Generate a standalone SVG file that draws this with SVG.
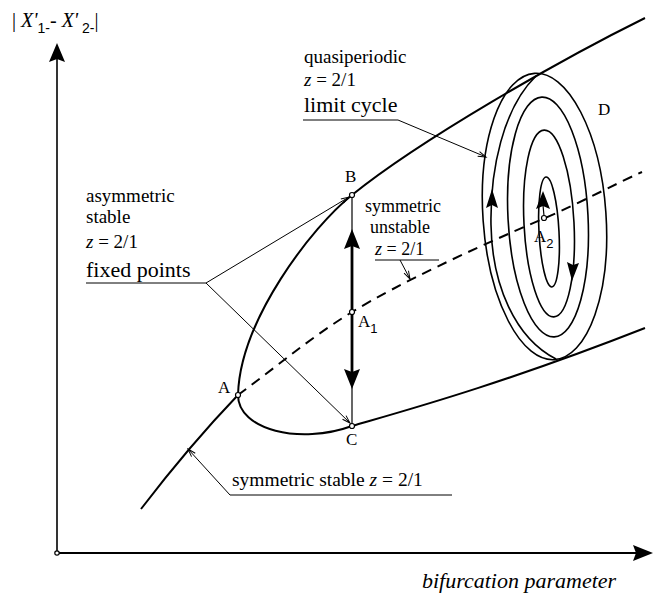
<svg xmlns="http://www.w3.org/2000/svg" width="655" height="597" viewBox="0 0 655 597">
<defs>
<style>
text{font-family:"Liberation Serif","Times New Roman",serif;fill:#000}
.lbl{font-size:19px}
.mid{font-size:18px}
.big{font-size:22px}
.pt{font-size:17px}
.sub{font-family:"Liberation Sans",Arial,sans-serif;font-size:13px}
.it{font-style:italic}
.curve{fill:none;stroke:#000;stroke-width:2}
.ring{fill:none;stroke:#000;stroke-width:1.6}
.lead{fill:none;stroke:#000;stroke-width:1}
.dot{fill:#fff;stroke:#000;stroke-width:1.2}
.ah{fill:#000;stroke:none}
</style>
<marker id="tick" viewBox="-10 -5 12 10" refX="0" refY="0" markerWidth="12" markerHeight="10" markerUnits="userSpaceOnUse" orient="auto">
<path d="M-8,-2.5 L0,0 L-8,2.5" fill="none" stroke="#000" stroke-width="1"/>
</marker>
</defs>
<rect width="655" height="597" fill="#fff"/>

<g id="axes">
<line x1="57" y1="553" x2="57" y2="58" stroke="#000" stroke-width="1.6"/>
<path class="ah" d="M57,43 L65,62 L57,59 L49,62 Z"/>
<line x1="57" y1="553" x2="636" y2="553" stroke="#000" stroke-width="2"/>
<path class="ah" d="M653,553 L633,545 L636,553 L633,561 Z"/>
<circle class="dot" cx="57" cy="553" r="2.2"/>
<text x="12" y="27" style="font-size:20px">| <tspan class="it">X'</tspan><tspan class="sub" style="font-size:14px" dy="6">1-</tspan><tspan dy="-6">-</tspan> <tspan class="it">X'</tspan><tspan class="sub" style="font-size:14px" dy="6"> 2-</tspan><tspan dy="-6">|</tspan></text>
<text class="it" x="422" y="588" style="font-size:22px">bifurcation parameter</text>
</g>

<g id="branches">
<path class="curve" d="M645,18 C560,60 420,140 352,195 C312,227 240,320 238,395 C238,430 300,445 352,426 C400,412 500,385 645,328"/>
<path class="curve" d="M141,509 Q190,445 238,395"/>
<path class="curve" stroke-dasharray="10,7" d="M238,395 C280,364 310,338 352,312 C400,283 470,250 545,218 C580,203 615,184 642,172"/>
</g>

<g id="limit-cycle">
<ellipse class="ring" cx="544.5" cy="216.5" rx="61.5" ry="143.5" transform="rotate(-4 544.5 216.5)"/>
<path class="ring" d="M536,76 C503,108 490,170 491,225 C492,285 515,338 556,359"/>
<ellipse class="ring" cx="548" cy="217" rx="40" ry="120" transform="rotate(-3 548 217)"/>
<ellipse class="ring" cx="549" cy="223.5" rx="25" ry="93.5" transform="rotate(-3 549 223.5)"/>
<ellipse class="ring" cx="549" cy="232" rx="10" ry="55" transform="rotate(-3 549 232)"/>
<path class="ah" d="M492,189 L498,208 L492,205 L486,208 Z"/>
<path class="ah" d="M543,191 L550,209 L543,206 L536,209 Z"/>
<line x1="543" y1="205" x2="544" y2="216" stroke="#000" stroke-width="1.2"/>
<path class="ah" d="M572,281 L567,262 L573,265 L579,263 Z"/>
<circle class="dot" cx="544" cy="218" r="2.5"/>
<text class="pt" x="534" y="242">A<tspan class="sub" dy="6">2</tspan></text>
<text class="pt" x="598" y="115">D</text>
</g>

<g id="transition">
<line x1="352" y1="196" x2="352" y2="426" stroke="#000" stroke-width="1.2"/>
<line x1="352" y1="245" x2="352" y2="372" stroke="#000" stroke-width="2.8"/>
<path class="ah" d="M352,229 L360,249 L352,246 L344,249 Z"/>
<path class="ah" d="M352,389 L344,369 L352,372 L360,369 Z"/>
</g>

<g id="points">
<circle class="dot" cx="238" cy="395" r="2.5"/>
<circle class="dot" cx="352" cy="195" r="2.5"/>
<circle class="dot" cx="352" cy="426" r="2.5"/>
<circle class="dot" cx="352" cy="312" r="2.5"/>
<text class="pt" x="218" y="393">A</text>
<text class="pt" x="345" y="182">B</text>
<text class="pt" x="346" y="445">C</text>
<text class="pt" x="358" y="327">A<tspan class="sub" dy="6">1</tspan></text>
</g>

<g id="labels">
<text class="lbl" x="304" y="63">quasiperiodic</text>
<text class="lbl" x="304" y="86"><tspan class="it">z</tspan> = 2/1</text>
<text class="big" x="304" y="112">limit cycle</text>
<text class="lbl" x="86" y="202">asymmetric</text>
<text class="lbl" x="86" y="223">stable</text>
<text class="lbl" x="86" y="248"><tspan class="it">z</tspan> = 2/1</text>
<text class="big" x="86" y="277">fixed points</text>
<text class="mid" x="365" y="212">symmetric</text>
<text class="mid" x="370" y="233">unstable</text>
<text class="mid" x="375" y="255"><tspan class="it">z</tspan> = 2/1</text>
<text class="lbl" x="232" y="486" style="font-size:19.5px">symmetric stable  <tspan class="it">z</tspan> = 2/1</text>
</g>

<g id="connectors">
<path class="lead" d="M303,120 L398,120 L486,157" marker-end="url(#tick)"/>
<path class="lead" d="M86,283 L206,283 L349,197" marker-end="url(#tick)"/>
<path class="lead" d="M206,283 L350,423" marker-end="url(#tick)"/>
<path class="lead" d="M375,260 L439,260"/>
<path class="lead" d="M400,260 L410,279" marker-end="url(#tick)"/>
<path class="lead" d="M452,495 L230,495 L188,449" marker-end="url(#tick)"/>
</g>
</svg>
